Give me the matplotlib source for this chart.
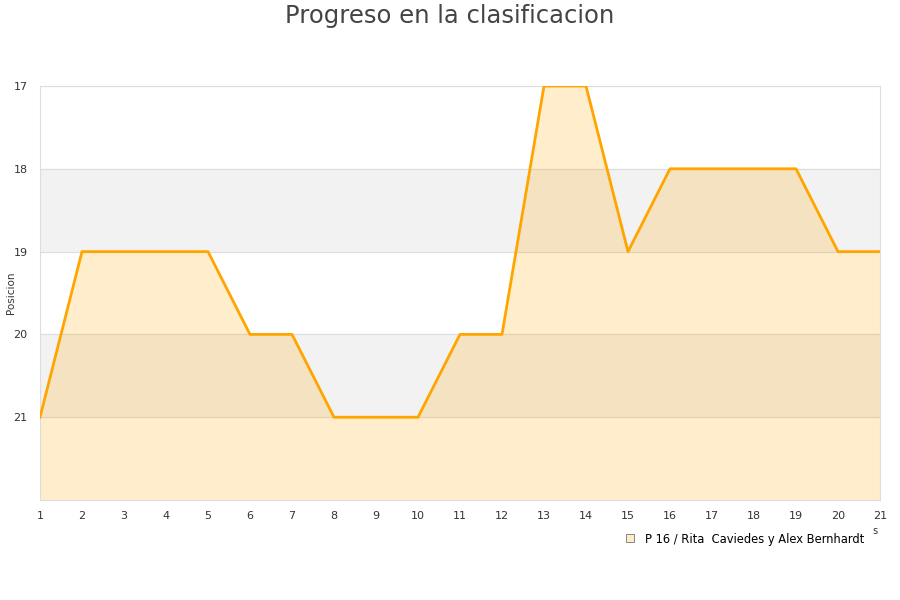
import matplotlib
matplotlib.use("Agg")
import matplotlib.pyplot as plt

rounds = list(range(1, 22))
positions = [21, 19, 19, 19, 19, 20, 20, 21, 21, 21, 20, 20, 17, 17, 19, 18, 18, 18, 18, 19, 19]
y_ticks = [17, 18, 19, 20, 21]
series_label = "P 16 / Rita  Caviedes y Alex Bernhardt"

fig = plt.figure(figsize=(9, 6), dpi=100)
ax = fig.add_axes([40/900, 1-500/600, 840/900, 414/600])

ax.set_xlim(1, 21)
ax.set_ylim(22, 17)

for lo, hi in [(18, 19), (20, 21)]:
    ax.axhspan(lo, hi, color="#f2f2f2", zorder=0)
for t in y_ticks:
    ax.axhline(t, color="#dddddd", lw=0.8, zorder=1)

ax.fill_between(rounds, positions, 22, color="#ffa500", alpha=0.2, lw=0, zorder=2)
ax.plot(rounds, positions, color="#ffa500", lw=2.0, zorder=3)

ax.set_xticks(rounds)
ax.set_yticks(y_ticks)
ax.tick_params(axis="both", length=0, labelsize=8, colors="#333333")
ax.tick_params(axis="x", pad=8)
ax.tick_params(axis="y", pad=9)
for s in ax.spines.values():
    s.set_color("#dddddd")
    s.set_linewidth(0.8)

ax.set_ylabel("Posicion", fontsize=7.5, color="#333333")
ax.yaxis.set_label_coords(-24/840, 0.5)
fig.suptitle("Progreso en la clasificacion", fontsize=17.5, color="#444444", y=0.993)

fig.text(875/900, 1-531/600, "s", fontsize=7, color="#333333", ha="center", va="center")

leg_handle = plt.Line2D([], [], marker="s", ls="", markersize=6,
                        markerfacecolor="#ffebc8", markeredgecolor="#777777", markeredgewidth=0.6)
fig.legend([leg_handle], [series_label], loc="center right",
           bbox_to_anchor=(869/900, 1-539/600), frameon=False, fontsize=8.3,
           handletextpad=0.3, borderaxespad=0)

fig.savefig("out.png", dpi=100)
